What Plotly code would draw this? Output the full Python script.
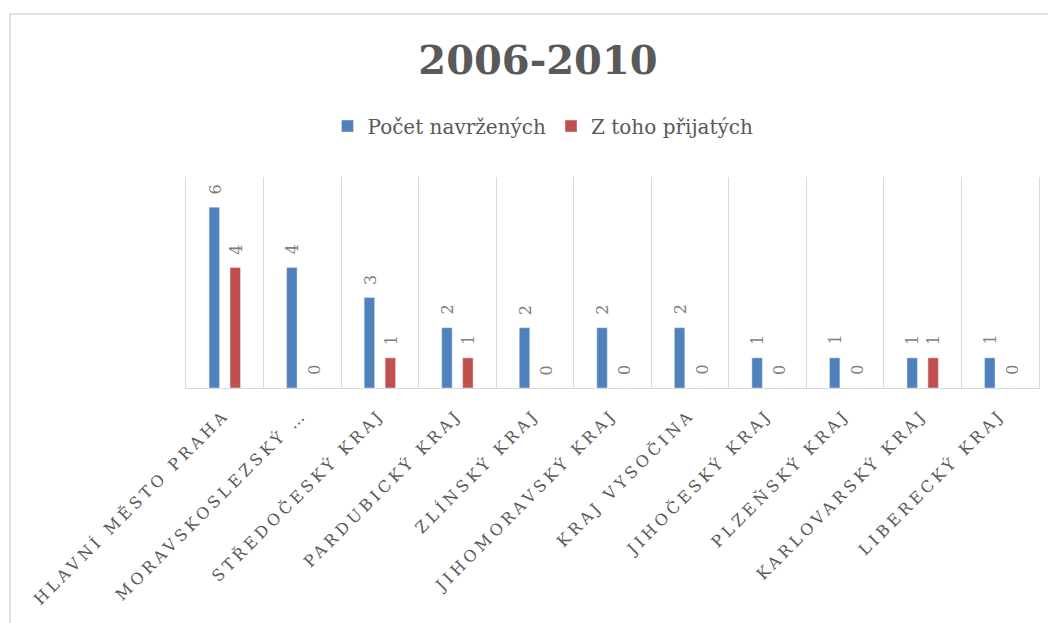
import plotly.graph_objects as go

categories = ["HLAVNÍ MĚSTO PRAHA", "MORAVSKOSLEZSKÝ …", "STŘEDOČESKÝ KRAJ", "PARDUBICKÝ KRAJ",
              "ZLÍNSKÝ KRAJ", "JIHOMORAVSKÝ KRAJ", "KRAJ VYSOČINA", "JIHOČESKÝ KRAJ",
              "PLZEŇSKÝ KRAJ", "KARLOVARSKÝ KRAJ", "LIBERECKÝ KRAJ"]
navrzenych = [6, 4, 3, 2, 2, 2, 2, 1, 1, 1, 1]
prijatych = [4, 0, 1, 1, 0, 0, 0, 0, 0, 1, 0]
series_names = ["Počet navržených", "Z toho přijatých"]
title_text = "2006-2010"

FONT = "DejaVu Serif"
GRAY = "#595959"
LABEL_GRAY = "#808080"
GRID = "#D9D9D9"

ticktext = ['<span style="letter-spacing:3.8px">%s</span>' % c for c in categories]

fig = go.Figure()
annotations = []
for (name, vals, color, shift) in [(series_names[0], navrzenych, "#4F81BD", -10.5),
                                   (series_names[1], prijatych, "#C0504D", 10.5)]:
    fig.add_trace(go.Bar(x=categories, y=vals, name=name, marker_color=color))
    for c, v in zip(categories, vals):
        annotations.append(dict(
            x=c, y=v, xref="x", yref="y", text=str(v), showarrow=False,
            textangle=-90, xanchor="center", yanchor="bottom",
            xshift=shift + 1, yshift=11,
            font=dict(family=FONT, size=16, color=LABEL_GRAY)))

fig.update_layout(
    width=1056, height=623,
    margin=dict(l=178, r=25, t=169, b=243),
    paper_bgcolor="white", plot_bgcolor="white",
    barmode="group", bargap=0.46, bargroupgap=0.5,
    title=dict(text="<b>%s</b>" % title_text, x=530 / 1056, xanchor="center", xref="container",
               y=1 - 52 / 623, yanchor="middle", yref="container",
               font=dict(family=FONT, size=40, color=GRAY)),
    legend=dict(orientation="h", x=0.4185, xanchor="center", y=1.2417, yanchor="middle",
                font=dict(family=FONT, size=20, color=GRAY), itemclick=False),
    xaxis=dict(type="category", tickson="boundaries", showgrid=True, gridcolor=GRID, gridwidth=1,
               showline=True, linecolor=GRID, linewidth=1, ticks="",
               tickvals=categories, ticktext=ticktext, tickangle=-45, ticklabelstandoff=10,
               tickfont=dict(family=FONT, size=16, color=GRAY), range=[-0.5, 10.5]),
    yaxis=dict(range=[0, 7], showgrid=False, showticklabels=False, zeroline=False,
               showline=True, linecolor=GRID, mirror=True, ticks=""),
    annotations=annotations,
    shapes=[dict(type="rect", xref="paper", yref="paper", x0=-0.2063, x1=1.1, y0=-1.3, y1=1.7725,
                 line=dict(color=GRID, width=1.5), fillcolor="rgba(0,0,0,0)", layer="below")],
)

fig.write_html("out.html")
